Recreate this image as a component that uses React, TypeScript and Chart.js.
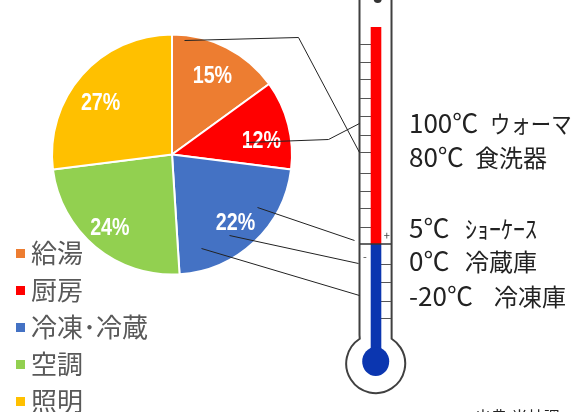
import React, { useEffect, useRef } from "react";
import { Chart, registerables } from "chart.js";

Chart.register(...registerables);

const categories = ["給湯", "厨房", "冷凍･冷蔵", "空調", "照明"];
const shares = [15, 12, 22, 24, 27];
const sliceColors = ["#ED7D31", "#FF0000", "#4472C4", "#92D050", "#FFC000"];

const CJK = '"Noto Sans CJK JP", "Noto Sans", sans-serif';

// Fine adjustment of each percent label around its slice's mid radius.
const labelNudges = [[-1, 1], [1, 8], [1, 1], [-4, 2], [-3, 7]];

const tubeLeftTicks = [44, 62, 79, 98, 116, 135, 152, 173, 191, 208, 227];
const tubeRightTicks = [264, 282, 301, 318];

const leaderLines = [
  [[184, 40], [298, 37], [359, 152]],
  [[246, 142], [328, 139], [359, 123]],
  [[257, 207], [354, 240]],
  [[229, 235], [358, 263]],
  [[201, 248], [359, 295]],
];

const tempRows = [
  { temp: "100℃", use: "ウォーマ", y: 133, useX: 490, kana: true },
  { temp: "80℃", use: "食洗器", y: 167, useX: 475, kana: false },
  { temp: "5℃", use: "ｼｮｰｹｰｽ", y: 238, useX: 465, kana: false },
  { temp: "0℃", use: "冷蔵庫", y: 271, useX: 465, kana: false },
  { temp: "-20℃", use: "冷凍庫", y: 306, useX: 494, kana: false },
];

// Draws text squeezed horizontally about its left edge.
function squeezedText(ctx: CanvasRenderingContext2D, text: string, x: number, y: number, sx: number) {
  ctx.save();
  ctx.translate(x, y);
  ctx.scale(sx, 1);
  ctx.fillText(text, 0, 0);
  ctx.restore();
}

const percentLabels = {
  id: "percentLabels",
  afterDatasetsDraw(chart: any) {
    const { ctx } = chart;
    const arcs = chart.getDatasetMeta(0).data;
    ctx.save();
    ctx.fillStyle = "#fff";
    ctx.font = `bold 24px "Liberation Sans", sans-serif`;
    ctx.textAlign = "center";
    ctx.textBaseline = "alphabetic";
    arcs.forEach((arc: any, i: number) => {
      const mid = (arc.startAngle + arc.endAngle) / 2;
      const r = arc.outerRadius * 0.76;
      const [dx, dy] = labelNudges[i];
      ctx.save();
      ctx.translate(arc.x + Math.cos(mid) * r + dx, arc.y + Math.sin(mid) * r + dy + 8.5);
      ctx.scale(0.82, 1);
      ctx.fillText(`${shares[i]}%`, 0, 0);
      ctx.restore();
    });
    ctx.restore();
  },
};

const sideLegend = {
  id: "sideLegend",
  afterDraw(chart: any) {
    const { ctx } = chart;
    ctx.save();
    ctx.textBaseline = "middle";
    ctx.font = `26px ${CJK}`;
    categories.forEach((name, i) => {
      const y = 253.5 + i * 37;
      ctx.fillStyle = sliceColors[i];
      ctx.fillRect(16, y - 4.5, 9, 9);
      ctx.fillStyle = "#595959";
      ctx.fillText(name, 31, y);
    });
    ctx.restore();
  },
};

const thermometer = {
  id: "thermometer",
  afterDraw(chart: any) {
    const { ctx } = chart;
    ctx.save();

    // Glass outline: two tube walls running off the top edge and the round bulb.
    ctx.strokeStyle = "#404040";
    ctx.lineWidth = 2;
    ctx.beginPath();
    ctx.moveTo(359.5, 0);
    ctx.lineTo(359.5, 335);
    ctx.arc(375.7, 363.6, 29.5, Math.PI + 1.0, -1.0, true);
    ctx.lineTo(391.5, 0);
    ctx.stroke();

    // Scale ticks either side of the column.
    ctx.strokeStyle = "#555";
    ctx.lineWidth = 1;
    ctx.beginPath();
    tubeLeftTicks.forEach((y) => {
      ctx.moveTo(360, y + 0.5);
      ctx.lineTo(371, y + 0.5);
    });
    tubeRightTicks.forEach((y) => {
      ctx.moveTo(381, y + 0.5);
      ctx.lineTo(391, y + 0.5);
    });
    ctx.stroke();

    // Hot and cold sections of the liquid column.
    ctx.fillStyle = "#FF0000";
    ctx.fillRect(370.7, 27, 10.6, 217);
    ctx.fillStyle = "#0B36B0";
    ctx.fillRect(370.7, 244, 10.6, 110);
    ctx.beginPath();
    ctx.ellipse(375.7, 361.5, 13.5, 14.5, 0, 0, Math.PI * 2);
    ctx.fill();

    // Zero line.
    ctx.strokeStyle = "#333";
    ctx.lineWidth = 1.5;
    ctx.beginPath();
    ctx.moveTo(360, 244);
    ctx.lineTo(391, 244);
    ctx.stroke();

    // Cap dot at the top end of the tube.
    ctx.fillStyle = "#333";
    ctx.beginPath();
    ctx.arc(377.7, -1, 4, 0, Math.PI * 2);
    ctx.fill();

    ctx.fillStyle = "#444";
    ctx.font = `11px ${CJK}`;
    ctx.textAlign = "center";
    ctx.textBaseline = "middle";
    ctx.fillText("+", 386.7, 235.5);
    ctx.fillText("-", 365, 257);

    // Leader lines from the pie slices to the scale.
    ctx.strokeStyle = "#222";
    ctx.lineWidth = 1;
    leaderLines.forEach((pts) => {
      ctx.beginPath();
      pts.forEach(([x, y], i) => (i ? ctx.lineTo(x + 0.5, y + 0.5) : ctx.moveTo(x + 0.5, y + 0.5)));
      ctx.stroke();
    });

    // Temperature captions: the reading, then the equipment name.
    ctx.textAlign = "left";
    ctx.textBaseline = "alphabetic";
    ctx.fillStyle = "#222";
    tempRows.forEach(({ temp, use, y, useX, kana }) => {
      ctx.font = `26px ${CJK}`;
      ctx.fillText(temp, 409, y);
      ctx.font = `24px ${CJK}`;
      squeezedText(ctx, use, useX, y, kana ? 0.85 : 1);
    });

    ctx.font = `16px ${CJK}`;
    ctx.fillText("出典:当社調", 475, 423);
    ctx.restore();
  },
};

export default function App() {
  const ref = useRef<HTMLCanvasElement>(null);

  useEffect(() => {
    document.body.style.margin = "0";
    const chart = new Chart(ref.current!, {
      type: "pie",
      data: {
        labels: categories,
        datasets: [
          {
            data: shares,
            backgroundColor: sliceColors,
            borderColor: "#fff",
            borderWidth: 2,
          },
        ],
      },
      options: {
        responsive: false,
        animation: false,
        layout: { padding: { left: 51, right: 283, top: 33, bottom: 136 } },
        plugins: { legend: { display: false }, tooltip: { enabled: false } },
      },
      plugins: [percentLabels, sideLegend, thermometer],
    });
    return () => chart.destroy();
  }, []);

  return <canvas ref={ref} width={576} height={412} style={{ display: "block" }} />;
}
